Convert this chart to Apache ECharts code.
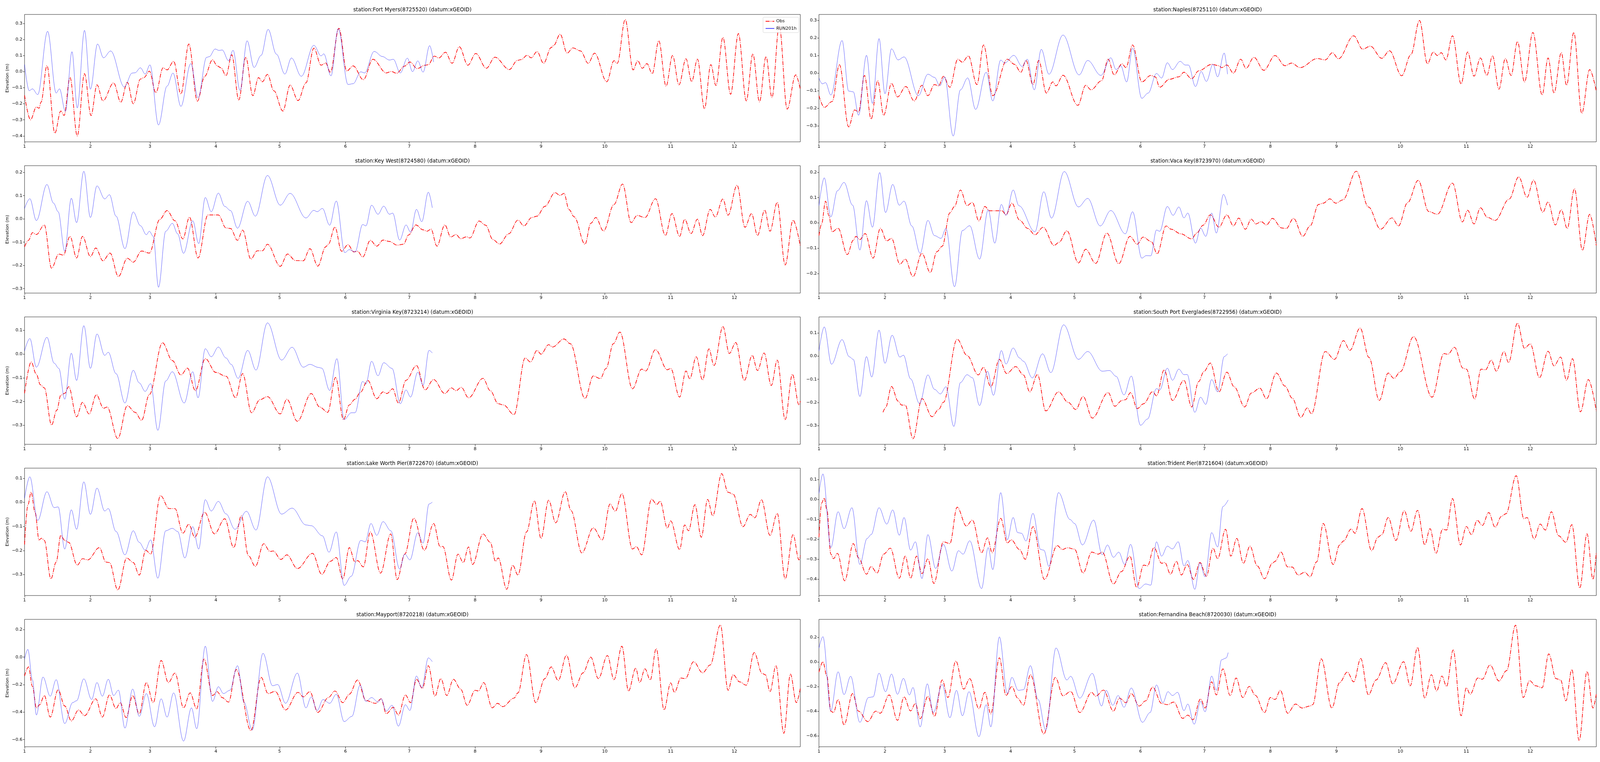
<!DOCTYPE html>
<html>
<head>
<meta charset="utf-8">
<title>Station elevation</title>
<script src="https://cdn.jsdelivr.net/npm/echarts@6/dist/echarts.min.js"></script>
<style>
html, body { margin: 0; padding: 0; background: #fff; overflow: hidden; }
#chart { width: 100vw; height: 100vh; }
</style>
</head>
<body>
<div id="chart"></div>
<script>
// x values are positions in months (1 = Jan 1, 13 = end of Dec), y values in metres
var monthStart = [0, 31, 59, 90, 120, 151, 181, 212, 243, 273, 304, 334, 365];
var monthLabels = ['1', '2', '3', '4', '5', '6', '7', '8', '9', '10', '11', '12'];

var stationTitles = [
  'station:Fort Myers(8725520) (datum:xGEOID)',
  'station:Naples(8725110) (datum:xGEOID)',
  'station:Key West(8724580) (datum:xGEOID)',
  'station:Vaca Key(8723970) (datum:xGEOID)',
  'station:Virginia Key(8723214) (datum:xGEOID)',
  'station:South Port Everglades(8722956) (datum:xGEOID)',
  'station:Lake Worth Pier(8722670) (datum:xGEOID)',
  'station:Trident Pier(8721604) (datum:xGEOID)',
  'station:Mayport(8720218) (datum:xGEOID)',
  'station:Fernandina Beach(8720030) (datum:xGEOID)'
];
var yLimits = [[-0.437, 0.356], [-0.39, 0.333], [-0.319, 0.229], [-0.277, 0.226], [-0.38, 0.157],
               [-0.38, 0.169], [-0.387, 0.142], [-0.482, 0.158], [-0.652, 0.275], [-0.687, 0.345]];
var yTicks = [
  [-0.4, -0.3, -0.2, -0.1, 0, 0.1, 0.2, 0.3],
  [-0.3, -0.2, -0.1, 0, 0.1, 0.2, 0.3],
  [-0.3, -0.2, -0.1, 0, 0.1, 0.2],
  [-0.2, -0.1, 0, 0.1, 0.2],
  [-0.3, -0.2, -0.1, 0, 0.1],
  [-0.3, -0.2, -0.1, 0, 0.1],
  [-0.3, -0.2, -0.1, 0, 0.1],
  [-0.4, -0.3, -0.2, -0.1, 0, 0.1],
  [-0.6, -0.4, -0.2, 0, 0.2],
  [-0.6, -0.4, -0.2, 0, 0.2]
];

var fortMyersObs = [[1.00,-0.147],[1.09,-0.30],[1.18,-0.22],[1.22,-0.228],[1.25,-0.19],[1.34,0.037],[1.46,-0.383],[1.55,-0.245],[1.60,-0.273],[1.69,-0.036],[1.80,-0.40],[1.91,-0.013],[2.01,-0.273],[2.11,-0.082],[2.21,-0.182],[2.39,-0.07],[2.51,-0.19],[2.62,-0.066],[2.72,-0.20],[2.84,-0.046],[2.90,-0.037],[2.99,0.003],[3.09,-0.131],[3.20,0.024],[3.26,0.011],[3.36,0.064],[3.47,-0.139],[3.59,0.172],[3.72,-0.184],[3.83,-0.03],[3.95,0.074],[4.02,0.036],[4.08,0.024],[4.16,-0.025],[4.25,0.105],[4.36,-0.176],[4.47,0.089],[4.58,-0.15],[4.67,-0.037],[4.73,-0.063],[4.81,-0.017],[4.91,-0.119],[5.05,-0.245],[5.16,-0.084],[5.28,-0.18],[5.40,-0.07],[5.52,0.146],[5.63,0.04],[5.70,0.054],[5.77,-0.005],[5.90,0.27],[6.02,0.004],[6.12,0.036],[6.28,-0.05],[6.43,0.077],[6.64,-0.008],[6.72,0.001],[6.80,-0.01],[6.93,0.035],[7.01,0.06],[7.12,0.019],[7.24,0.04],[7.29,0.043],[7.38,0.097],[7.45,0.085],[7.55,0.121],[7.65,0.052],[7.76,0.155],[7.89,0.04],[8.01,0.113],[8.17,0.021],[8.30,0.09],[8.52,0.013],[8.64,0.07],[8.70,0.075],[8.79,0.102],[8.85,0.086],[8.94,0.125],[9.04,0.052],[9.16,0.15],[9.20,0.164],[9.30,0.233],[9.41,0.115],[9.50,0.148],[9.62,0.129],[9.74,0.052],[9.84,0.115],[10.03,-0.063],[10.14,0.068],[10.19,0.052],[10.31,0.324],[10.43,0.011],[10.50,0.068],[10.57,0.021],[10.64,0.05],[10.72,-0.013],[10.82,0.192],[10.93,-0.09],[11.03,0.101],[11.13,-0.082],[11.24,0.08],[11.33,-0.062],[11.42,0.078],[11.53,-0.231],[11.63,0.044],[11.71,-0.086],[11.82,0.213],[11.94,-0.141],[12.06,0.237],[12.18,-0.182],[12.28,0.111],[12.38,-0.188],[12.48,0.094],[12.57,-0.161],[12.68,0.289],[12.80,-0.233],[12.93,-0.02],[13.00,-0.11]];
var fortMyersRun = [[1.00,0.044],[1.07,-0.119],[1.12,-0.107],[1.20,-0.143],[1.35,0.251],[1.48,-0.133],[1.53,-0.107],[1.62,-0.247],[1.72,0.124],[1.80,-0.226],[1.91,0.257],[2.00,-0.109],[2.12,0.172],[2.22,0.086],[2.34,0.129],[2.57,-0.096],[2.70,-0.009],[2.75,-0.007],[2.84,0.024],[2.92,-0.015],[3.00,0.042],[3.13,-0.332],[3.26,-0.09],[3.35,-0.009],[3.47,-0.216],[3.62,0.05],[3.73,-0.163],[3.86,0.089],[3.90,0.093],[3.99,0.141],[4.05,0.132],[4.10,0.135],[4.20,0.068],[4.27,0.133],[4.38,-0.117],[4.49,0.192],[4.60,0.026],[4.71,0.101],[4.82,0.263],[4.95,0.109],[5.08,-0.015],[5.18,0.085],[5.33,-0.029],[5.52,0.164],[5.63,0.098],[5.67,0.111],[5.78,-0.026],[5.89,0.267],[6.04,-0.08],[6.12,-0.075],[6.24,-0.001],[6.30,-0.008],[6.45,0.126],[6.58,0.094],[6.69,0.072],[6.75,0.077],[6.86,-0.008],[6.97,0.084],[7.05,0.0],[7.13,0.067],[7.21,-0.003],[7.31,0.162],[7.37,0.06]];

var naplesObs = [[1.00,-0.128],[1.08,-0.195],[1.20,-0.161],[1.31,0.048],[1.45,-0.305],[1.54,-0.209],[1.60,-0.22],[1.69,-0.013],[1.79,-0.261],[1.89,-0.043],[1.98,-0.239],[2.11,-0.058],[2.21,-0.135],[2.35,-0.076],[2.49,-0.158],[2.62,-0.069],[2.72,-0.128],[2.83,-0.065],[2.90,-0.072],[2.98,-0.018],[3.08,-0.08],[3.20,0.079],[3.27,0.062],[3.36,0.098],[3.49,-0.065],[3.59,0.16],[3.73,-0.128],[3.95,0.079],[4.06,0.05],[4.16,0.005],[4.24,0.072],[4.35,-0.065],[4.44,0.072],[4.56,-0.113],[4.66,-0.05],[4.71,-0.072],[4.82,-0.012],[5.05,-0.183],[5.17,-0.069],[5.25,-0.095],[5.41,-0.043],[5.51,0.079],[5.60,-0.01],[5.72,0.053],[5.78,0.031],[5.88,0.16],[6.02,-0.05],[6.16,-0.013],[6.23,-0.021],[6.30,-0.08],[6.45,-0.035],[6.60,-0.021],[6.68,0.005],[6.80,-0.032],[6.91,0.013],[7.11,0.05],[7.22,0.042],[7.26,0.031],[7.34,0.046],[7.44,0.0],[7.55,0.079],[7.63,0.027],[7.75,0.09],[7.90,0.016],[8.07,0.1],[8.22,0.042],[8.32,0.057],[8.45,0.031],[8.71,0.083],[8.83,0.075],[8.94,0.116],[9.03,0.081],[9.27,0.212],[9.41,0.136],[9.53,0.153],[9.71,0.084],[9.83,0.127],[10.02,-0.015],[10.16,0.105],[10.29,0.299],[10.41,0.053],[10.50,0.12],[10.56,0.1],[10.62,0.116],[10.69,0.075],[10.79,0.212],[10.92,-0.061],[11.02,0.12],[11.12,-0.017],[11.22,0.086],[11.32,-0.013],[11.41,0.098],[11.51,-0.091],[11.61,0.083],[11.70,-0.013],[11.80,0.179],[11.91,-0.05],[12.04,0.231],[12.18,-0.124],[12.27,0.086],[12.36,-0.113],[12.47,0.116],[12.55,-0.069],[12.66,0.231],[12.78,-0.228],[12.90,0.02],[13.00,-0.102]];
var naplesRun = [[1.00,-0.028],[1.05,-0.061],[1.10,-0.054],[1.18,-0.124],[1.35,0.185],[1.45,-0.102],[1.52,-0.106],[1.60,-0.239],[1.72,0.101],[1.81,-0.172],[1.91,0.196],[2.00,-0.117],[2.11,0.138],[2.22,0.075],[2.32,0.092],[2.56,-0.128],[2.72,-0.006],[2.83,-0.024],[2.92,-0.072],[3.00,-0.021],[3.13,-0.357],[3.24,-0.095],[3.35,-0.027],[3.47,-0.206],[3.63,0.005],[3.73,-0.158],[3.85,0.074],[3.91,0.057],[4.05,0.101],[4.18,0.038],[4.26,0.079],[4.37,-0.095],[4.48,0.135],[4.60,-0.006],[4.82,0.216],[5.07,-0.01],[5.20,0.072],[5.40,-0.013],[5.55,0.087],[5.63,0.02],[5.70,0.042],[5.79,-0.05],[5.88,0.142],[6.02,-0.143],[6.12,-0.113],[6.25,-0.002],[6.33,-0.028],[6.42,0.059],[6.50,0.02],[6.62,0.067],[6.70,0.046],[6.75,0.046],[6.86,-0.076],[6.95,0.009],[7.03,-0.047],[7.13,0.05],[7.20,-0.021],[7.30,0.114],[7.35,-0.006]];

var keyWestObs = [[1.00,-0.12],[1.06,-0.092],[1.12,-0.059],[1.18,-0.067],[1.30,-0.026],[1.41,-0.212],[1.52,-0.151],[1.59,-0.156],[1.69,-0.075],[1.79,-0.168],[1.88,-0.075],[2.00,-0.162],[2.09,-0.125],[2.21,-0.18],[2.33,-0.147],[2.47,-0.248],[2.62,-0.169],[2.72,-0.186],[2.86,-0.138],[2.99,-0.147],[3.15,-0.002],[3.26,0.036],[3.38,-0.008],[3.50,-0.086],[3.60,0.008],[3.73,-0.168],[3.88,0.017],[4.04,0.017],[4.16,-0.039],[4.23,-0.041],[4.34,-0.092],[4.42,-0.048],[4.55,-0.173],[4.65,-0.137],[4.73,-0.137],[4.81,-0.109],[5.01,-0.204],[5.12,-0.151],[5.24,-0.179],[5.36,-0.18],[5.46,-0.128],[5.58,-0.203],[5.70,-0.12],[5.74,-0.109],[5.84,-0.035],[5.94,-0.139],[6.04,-0.111],[6.13,-0.142],[6.19,-0.139],[6.27,-0.164],[6.39,-0.092],[6.49,-0.117],[6.59,-0.091],[6.69,-0.097],[6.81,-0.113],[6.91,-0.109],[6.99,-0.069],[7.10,-0.026],[7.21,-0.047],[7.27,-0.053],[7.33,-0.044],[7.42,-0.117],[7.54,-0.026],[7.63,-0.078],[7.71,-0.067],[7.78,-0.085],[7.87,-0.077],[7.92,-0.082],[8.06,-0.009],[8.16,-0.027],[8.27,-0.089],[8.37,-0.108],[8.51,-0.064],[8.65,-0.005],[8.74,-0.03],[8.86,0.006],[8.94,0.012],[9.06,0.054],[9.22,0.113],[9.30,0.101],[9.36,0.11],[9.44,0.04],[9.52,0.009],[9.69,-0.109],[9.78,-0.019],[9.86,0.006],[9.98,-0.052],[10.14,0.062],[10.27,0.15],[10.40,-0.016],[10.49,0.015],[10.61,0.006],[10.77,0.087],[10.92,-0.071],[11.02,0.023],[11.14,-0.075],[11.22,-0.002],[11.32,-0.063],[11.42,-0.001],[11.50,-0.072],[11.62,0.041],[11.70,0.008],[11.82,0.086],[11.90,0.016],[12.04,0.145],[12.16,-0.036],[12.26,0.023],[12.35,-0.071],[12.46,0.038],[12.54,-0.053],[12.65,0.071],[12.77,-0.198],[12.89,-0.005],[13.00,-0.117]];
var keyWestRun = [[1.00,0.045],[1.08,0.087],[1.18,-0.007],[1.34,0.148],[1.44,0.068],[1.51,0.031],[1.61,-0.139],[1.71,0.089],[1.79,-0.016],[1.90,0.205],[2.00,0.006],[2.11,0.142],[2.24,0.086],[2.32,0.104],[2.43,0.012],[2.58,-0.128],[2.72,0.03],[2.84,-0.029],[2.94,-0.068],[2.99,-0.053],[3.05,-0.075],[3.13,-0.294],[3.24,-0.053],[3.34,-0.019],[3.42,-0.064],[3.51,-0.148],[3.65,-0.008],[3.74,-0.106],[3.84,0.092],[3.93,0.031],[4.04,0.111],[4.14,0.054],[4.23,0.036],[4.34,-0.04],[4.50,0.076],[4.62,0.012],[4.81,0.187],[5.01,0.059],[5.16,0.11],[5.40,0.004],[5.52,0.037],[5.57,0.031],[5.65,0.045],[5.76,-0.027],[5.86,0.077],[5.99,-0.145],[6.06,-0.132],[6.15,-0.142],[6.27,-0.024],[6.32,-0.03],[6.41,0.059],[6.51,0.02],[6.60,0.055],[6.69,0.02],[6.74,0.025],[6.85,-0.091],[6.95,-0.026],[7.02,-0.057],[7.11,0.041],[7.19,-0.012],[7.29,0.115],[7.35,0.048]];

var vacaKeyObs = [[1.00,-0.05],[1.04,-0.004],[1.10,0.086],[1.15,0.029],[1.20,-0.035],[1.29,-0.021],[1.43,-0.125],[1.52,-0.068],[1.56,-0.053],[1.62,-0.066],[1.70,-0.042],[1.82,-0.139],[1.93,-0.021],[2.03,-0.071],[2.11,-0.061],[2.25,-0.163],[2.34,-0.143],[2.47,-0.212],[2.62,-0.12],[2.76,-0.196],[2.87,-0.114],[2.96,-0.092],[3.08,0.04],[3.15,0.065],[3.24,0.13],[3.34,0.068],[3.42,0.081],[3.52,0.008],[3.61,0.065],[3.68,0.048],[3.87,0.048],[3.93,0.032],[4.02,0.078],[4.14,0.011],[4.27,-0.022],[4.38,-0.047],[4.51,-0.017],[4.68,-0.089],[4.76,-0.076],[4.88,-0.031],[5.06,-0.158],[5.17,-0.104],[5.32,-0.16],[5.49,-0.04],[5.67,-0.161],[5.84,-0.053],[5.95,-0.084],[6.04,-0.056],[6.17,-0.074],[6.26,-0.122],[6.40,-0.012],[6.48,-0.025],[6.63,-0.043],[6.80,-0.063],[6.88,-0.04],[6.98,-0.009],[7.09,0.032],[7.22,-0.017],[7.34,0.032],[7.44,-0.012],[7.52,0.019],[7.62,-0.025],[7.71,0.015],[7.78,-0.004],[7.86,0.005],[7.94,-0.008],[8.03,0.018],[8.17,-0.02],[8.24,-0.022],[8.35,0.018],[8.49,-0.053],[8.60,-0.012],[8.73,0.073],[8.80,0.078],[8.90,0.095],[8.99,0.078],[9.10,0.091],[9.31,0.204],[9.50,0.063],[9.69,-0.025],[9.87,0.02],[9.97,-0.012],[10.11,0.08],[10.27,0.168],[10.43,0.045],[10.56,0.034],[10.79,0.157],[10.94,0.004],[11.02,0.05],[11.12,-0.004],[11.22,0.06],[11.33,0.022],[11.45,0.01],[11.67,0.094],[11.82,0.182],[11.95,0.101],[12.05,0.169],[12.19,0.042],[12.27,0.083],[12.38,-0.008],[12.47,0.052],[12.56,-0.022],[12.67,0.135],[12.79,-0.108],[12.90,0.034],[13.00,-0.089]];
var vacaKeyRun = [[1.00,0.068],[1.08,0.178],[1.18,0.024],[1.28,0.127],[1.38,0.16],[1.51,0.07],[1.62,-0.107],[1.72,0.088],[1.81,-0.017],[1.92,0.199],[2.01,0.041],[2.13,0.152],[2.24,0.07],[2.32,0.086],[2.45,-0.012],[2.59,-0.12],[2.72,0.01],[2.83,-0.05],[2.94,-0.061],[3.02,-0.022],[3.15,-0.252],[3.27,-0.03],[3.38,-0.011],[3.53,-0.143],[3.66,0.051],[3.76,-0.08],[3.86,0.073],[3.93,0.03],[4.04,0.13],[4.13,0.068],[4.38,-0.035],[4.52,0.123],[4.64,0.019],[4.84,0.203],[5.06,0.063],[5.20,0.097],[5.39,-0.012],[5.55,0.049],[5.77,-0.043],[5.88,0.044],[6.02,-0.139],[6.09,-0.129],[6.16,-0.13],[6.25,-0.028],[6.30,-0.033],[6.42,0.065],[6.51,0.03],[6.60,0.063],[6.68,0.02],[6.74,0.039],[6.86,-0.08],[6.94,-0.02],[7.02,-0.053],[7.11,0.039],[7.18,-0.04],[7.29,0.113],[7.35,0.07]];

var virginiaKeyObs = [[1.00,-0.165],[1.10,-0.033],[1.18,-0.085],[1.24,-0.129],[1.30,-0.142],[1.41,-0.299],[1.49,-0.236],[1.55,-0.173],[1.61,-0.165],[1.67,-0.137],[1.79,-0.264],[1.88,-0.203],[1.98,-0.252],[2.10,-0.171],[2.22,-0.228],[2.28,-0.223],[2.46,-0.356],[2.62,-0.217],[2.75,-0.245],[2.86,-0.279],[2.99,-0.17],[3.19,0.048],[3.34,-0.027],[3.47,-0.088],[3.57,-0.059],[3.69,-0.154],[3.84,-0.019],[4.00,-0.077],[4.16,-0.093],[4.31,-0.184],[4.42,-0.082],[4.56,-0.247],[4.69,-0.192],[4.81,-0.179],[5.01,-0.252],[5.11,-0.19],[5.27,-0.283],[5.48,-0.166],[5.61,-0.223],[5.73,-0.245],[5.85,-0.098],[5.97,-0.276],[6.06,-0.214],[6.15,-0.19],[6.23,-0.162],[6.35,-0.111],[6.49,-0.188],[6.59,-0.159],[6.65,-0.166],[6.74,-0.146],[6.83,-0.206],[6.95,-0.11],[7.11,-0.048],[7.24,-0.151],[7.37,-0.107],[7.54,-0.166],[7.64,-0.142],[7.71,-0.154],[7.79,-0.14],[7.90,-0.184],[8.12,-0.102],[8.23,-0.154],[8.35,-0.209],[8.43,-0.214],[8.59,-0.255],[8.76,-0.016],[8.84,-0.033],[8.94,0.016],[9.00,0.0],[9.12,0.04],[9.18,0.03],[9.36,0.064],[9.46,0.044],[9.69,-0.187],[9.82,-0.092],[9.93,-0.103],[10.02,-0.06],[10.13,0.044],[10.23,0.093],[10.42,-0.146],[10.56,-0.063],[10.62,-0.071],[10.77,0.019],[10.95,-0.066],[11.00,-0.06],[11.14,-0.181],[11.24,-0.071],[11.30,-0.104],[11.40,-0.011],[11.50,-0.109],[11.60,0.022],[11.68,-0.048],[11.82,0.116],[11.92,0.003],[12.02,0.049],[12.15,-0.111],[12.27,-0.005],[12.35,-0.069],[12.45,0.005],[12.56,-0.132],[12.65,-0.025],[12.77,-0.276],[12.88,-0.085],[12.98,-0.214],[13.00,-0.198]];
var virginiaKeyRun = [[1.00,0.014],[1.08,0.066],[1.18,-0.055],[1.34,0.071],[1.45,-0.038],[1.52,-0.06],[1.61,-0.19],[1.71,0.004],[1.79,-0.111],[1.90,0.12],[2.00,-0.06],[2.11,0.085],[2.24,-0.005],[2.30,0.008],[2.43,-0.082],[2.58,-0.206],[2.72,-0.068],[2.82,-0.121],[2.92,-0.157],[3.01,-0.124],[3.12,-0.321],[3.24,-0.113],[3.34,-0.074],[3.52,-0.206],[3.65,-0.074],[3.73,-0.184],[3.84,0.023],[3.93,-0.011],[4.04,0.03],[4.16,-0.016],[4.24,-0.043],[4.35,-0.102],[4.50,0.016],[4.63,-0.067],[4.81,0.132],[5.03,-0.025],[5.19,0.029],[5.36,-0.055],[5.46,-0.043],[5.59,-0.056],[5.64,-0.059],[5.76,-0.153],[5.87,-0.019],[5.98,-0.276],[6.09,-0.247],[6.15,-0.247],[6.27,-0.115],[6.32,-0.126],[6.41,-0.03],[6.51,-0.091],[6.60,-0.036],[6.73,-0.06],[6.86,-0.209],[6.95,-0.151],[7.02,-0.181],[7.13,-0.076],[7.21,-0.131],[7.30,0.016],[7.35,0.005]];

var southPortObs = [[1.97,-0.242],[2.01,-0.222],[2.11,-0.131],[2.22,-0.194],[2.28,-0.211],[2.34,-0.211],[2.47,-0.356],[2.62,-0.183],[2.79,-0.261],[2.90,-0.23],[2.98,-0.199],[3.19,0.073],[3.34,0.003],[3.51,-0.081],[3.59,-0.048],[3.70,-0.132],[3.83,-0.014],[3.94,-0.075],[4.08,-0.045],[4.20,-0.081],[4.30,-0.154],[4.42,-0.079],[4.55,-0.236],[4.75,-0.154],[4.90,-0.199],[5.02,-0.23],[5.13,-0.174],[5.27,-0.267],[5.51,-0.157],[5.61,-0.216],[5.72,-0.191],[5.77,-0.188],[5.85,-0.157],[5.95,-0.226],[6.05,-0.205],[6.19,-0.153],[6.25,-0.171],[6.37,-0.059],[6.50,-0.191],[6.68,-0.104],[6.80,-0.219],[6.91,-0.11],[6.99,-0.067],[7.09,-0.03],[7.22,-0.154],[7.34,-0.069],[7.45,-0.132],[7.61,-0.219],[7.71,-0.159],[7.84,-0.138],[7.94,-0.184],[8.09,-0.073],[8.22,-0.129],[8.33,-0.181],[8.46,-0.264],[8.56,-0.223],[8.62,-0.249],[8.83,0.02],[8.97,-0.014],[9.11,0.067],[9.21,0.025],[9.37,0.121],[9.51,-0.006],[9.67,-0.191],[9.81,-0.073],[9.90,-0.096],[10.00,-0.067],[10.20,0.084],[10.48,-0.177],[10.66,0.011],[10.72,0.008],[10.82,0.038],[10.95,-0.052],[11.00,-0.056],[11.13,-0.185],[11.23,-0.056],[11.30,-0.059],[11.39,-0.017],[11.47,-0.065],[11.59,0.02],[11.66,-0.028],[11.80,0.142],[11.91,0.034],[12.00,0.053],[12.14,-0.093],[12.27,0.021],[12.36,-0.042],[12.46,-0.004],[12.55,-0.104],[12.64,-0.011],[12.76,-0.24],[12.88,-0.101],[13.00,-0.236]];
var southPortRun = [[1.00,0.022],[1.08,0.126],[1.19,-0.035],[1.35,0.071],[1.46,-0.003],[1.52,-0.014],[1.62,-0.174],[1.72,-0.002],[1.80,-0.09],[1.91,0.112],[2.00,-0.031],[2.12,0.09],[2.25,-0.004],[2.31,0.004],[2.43,-0.098],[2.58,-0.205],[2.72,-0.081],[2.83,-0.143],[2.93,-0.163],[3.02,-0.132],[3.14,-0.303],[3.24,-0.114],[3.34,-0.08],[3.42,-0.093],[3.53,-0.213],[3.65,-0.065],[3.74,-0.169],[3.86,0.024],[3.93,-0.034],[4.04,0.035],[4.14,-0.008],[4.20,-0.022],[4.34,-0.094],[4.50,0.01],[4.63,-0.071],[4.83,0.135],[5.06,-0.014],[5.20,0.02],[5.42,-0.065],[5.53,-0.062],[5.63,-0.087],[5.75,-0.167],[5.86,-0.086],[6.00,-0.298],[6.11,-0.271],[6.25,-0.14],[6.30,-0.146],[6.42,-0.052],[6.50,-0.104],[6.60,-0.056],[6.68,-0.08],[6.73,-0.079],[6.85,-0.242],[6.94,-0.177],[7.02,-0.208],[7.11,-0.101],[7.20,-0.154],[7.30,-0.002],[7.35,0.01]];

var lakeWorthObs = [[1.00,-0.175],[1.05,-0.012],[1.10,0.042],[1.16,-0.042],[1.22,-0.156],[1.26,-0.149],[1.30,-0.158],[1.40,-0.318],[1.48,-0.248],[1.55,-0.137],[1.61,-0.158],[1.67,-0.166],[1.80,-0.261],[1.88,-0.234],[1.96,-0.239],[2.15,-0.188],[2.26,-0.248],[2.32,-0.25],[2.46,-0.364],[2.61,-0.231],[2.72,-0.25],[2.82,-0.302],[2.93,-0.199],[3.01,-0.215],[3.16,0.028],[3.29,-0.026],[3.38,-0.026],[3.50,-0.128],[3.59,-0.091],[3.68,-0.145],[3.83,-0.041],[3.98,-0.131],[4.14,-0.068],[4.28,-0.188],[4.40,-0.056],[4.51,-0.221],[4.62,-0.266],[4.75,-0.172],[4.85,-0.204],[4.90,-0.202],[5.02,-0.237],[5.11,-0.218],[5.27,-0.275],[5.50,-0.212],[5.64,-0.299],[5.77,-0.245],[5.86,-0.229],[5.96,-0.318],[6.06,-0.188],[6.15,-0.248],[6.19,-0.242],[6.28,-0.268],[6.39,-0.123],[6.55,-0.294],[6.71,-0.131],[6.81,-0.321],[6.93,-0.215],[7.07,-0.066],[7.23,-0.199],[7.37,-0.088],[7.47,-0.185],[7.51,-0.183],[7.64,-0.323],[7.74,-0.215],[7.82,-0.25],[7.90,-0.185],[7.96,-0.258],[8.12,-0.131],[8.23,-0.166],[8.31,-0.245],[8.35,-0.231],[8.48,-0.361],[8.57,-0.261],[8.65,-0.302],[8.78,-0.123],[8.90,0.006],[9.00,-0.15],[9.12,0.009],[9.23,-0.085],[9.38,0.044],[9.47,-0.034],[9.64,-0.21],[9.82,-0.106],[9.96,-0.156],[10.08,-0.007],[10.16,-0.037],[10.26,0.036],[10.42,-0.194],[10.48,-0.184],[10.56,-0.218],[10.71,0.013],[10.79,-0.009],[10.84,0.005],[10.95,-0.107],[11.00,-0.077],[11.14,-0.196],[11.22,-0.094],[11.28,-0.118],[11.38,-0.01],[11.48,-0.145],[11.58,0.012],[11.66,-0.056],[11.80,0.119],[11.90,0.042],[11.98,0.034],[12.13,-0.101],[12.24,-0.05],[12.31,-0.064],[12.41,0.011],[12.54,-0.137],[12.65,-0.046],[12.77,-0.318],[12.89,-0.134],[12.98,-0.239],[13.00,-0.221]];
var lakeWorthRun = [[1.00,0.017],[1.08,0.106],[1.20,-0.075],[1.34,0.044],[1.45,-0.022],[1.51,-0.019],[1.61,-0.194],[1.71,-0.031],[1.79,-0.112],[1.90,0.085],[2.00,-0.05],[2.11,0.059],[2.24,-0.036],[2.30,-0.026],[2.43,-0.121],[2.58,-0.218],[2.72,-0.118],[2.82,-0.166],[2.92,-0.199],[3.01,-0.156],[3.12,-0.315],[3.24,-0.118],[3.34,-0.108],[3.42,-0.121],[3.53,-0.231],[3.65,-0.101],[3.74,-0.194],[3.84,0.011],[3.93,-0.036],[4.04,0.004],[4.16,-0.048],[4.30,-0.112],[4.48,-0.037],[4.63,-0.115],[4.81,0.106],[5.03,-0.049],[5.19,-0.024],[5.40,-0.094],[5.48,-0.097],[5.65,-0.139],[5.75,-0.207],[5.86,-0.123],[5.98,-0.345],[6.09,-0.307],[6.24,-0.158],[6.31,-0.164],[6.40,-0.088],[6.49,-0.137],[6.59,-0.08],[6.71,-0.118],[6.85,-0.277],[6.93,-0.215],[7.01,-0.239],[7.13,-0.126],[7.21,-0.169],[7.30,-0.007],[7.35,0.001]];

var tridentObs = [[1.00,-0.189],[1.04,-0.018],[1.08,0.008],[1.12,-0.051],[1.18,-0.274],[1.22,-0.297],[1.28,-0.27],[1.39,-0.408],[1.52,-0.221],[1.60,-0.293],[1.72,-0.375],[1.79,-0.336],[1.88,-0.369],[1.98,-0.274],[2.09,-0.244],[2.24,-0.395],[2.34,-0.284],[2.43,-0.395],[2.53,-0.284],[2.62,-0.372],[2.72,-0.297],[2.82,-0.421],[2.98,-0.212],[3.08,-0.221],[3.19,-0.038],[3.33,-0.133],[3.42,-0.103],[3.56,-0.267],[3.65,-0.192],[3.72,-0.267],[3.85,-0.094],[3.95,-0.218],[4.01,-0.202],[4.14,-0.251],[4.23,-0.30],[4.35,-0.136],[4.53,-0.401],[4.73,-0.231],[4.81,-0.251],[4.89,-0.242],[5.00,-0.249],[5.13,-0.369],[5.26,-0.264],[5.36,-0.274],[5.42,-0.264],[5.59,-0.424],[5.71,-0.362],[5.84,-0.284],[5.94,-0.441],[6.05,-0.329],[6.11,-0.333],[6.21,-0.241],[6.33,-0.32],[6.38,-0.316],[6.47,-0.375],[6.56,-0.31],[6.64,-0.379],[6.73,-0.326],[6.83,-0.401],[6.93,-0.316],[7.03,-0.385],[7.13,-0.244],[7.20,-0.297],[7.32,-0.149],[7.40,-0.284],[7.49,-0.195],[7.59,-0.32],[7.69,-0.234],[7.80,-0.333],[7.91,-0.398],[8.03,-0.32],[8.07,-0.31],[8.16,-0.264],[8.26,-0.338],[8.33,-0.339],[8.42,-0.379],[8.52,-0.365],[8.60,-0.388],[8.70,-0.313],[8.80,-0.12],[8.95,-0.326],[9.05,-0.228],[9.11,-0.208],[9.23,-0.148],[9.29,-0.169],[9.40,-0.045],[9.55,-0.257],[9.65,-0.189],[9.71,-0.176],[9.81,-0.09],[9.93,-0.205],[10.06,-0.056],[10.16,-0.159],[10.26,-0.054],[10.37,-0.227],[10.45,-0.146],[10.54,-0.27],[10.64,-0.149],[10.70,-0.153],[10.79,0.005],[10.91,-0.228],[11.00,-0.135],[11.08,-0.176],[11.17,-0.104],[11.25,-0.13],[11.35,-0.065],[11.45,-0.139],[11.55,-0.084],[11.62,-0.071],[11.78,0.12],[11.90,-0.096],[11.95,-0.09],[12.06,-0.198],[12.15,-0.123],[12.23,-0.153],[12.32,-0.061],[12.43,-0.182],[12.54,-0.215],[12.63,-0.126],[12.75,-0.444],[12.86,-0.172],[12.95,-0.401],[13.00,-0.267]];
var tridentRun = [[1.00,0.031],[1.06,0.129],[1.18,-0.241],[1.29,-0.061],[1.38,-0.146],[1.50,-0.041],[1.62,-0.326],[1.73,-0.195],[1.79,-0.176],[1.91,-0.041],[2.03,-0.123],[2.13,-0.052],[2.24,-0.179],[2.32,-0.09],[2.43,-0.254],[2.51,-0.212],[2.62,-0.397],[2.72,-0.176],[2.85,-0.346],[2.98,-0.225],[3.11,-0.359],[3.21,-0.257],[3.28,-0.274],[3.38,-0.207],[3.56,-0.447],[3.66,-0.241],[3.73,-0.352],[3.85,0.035],[3.95,-0.202],[4.04,-0.09],[4.11,-0.166],[4.17,-0.169],[4.24,-0.208],[4.35,-0.069],[4.47,-0.251],[4.52,-0.254],[4.60,-0.336],[4.75,0.035],[4.93,-0.10],[5.00,-0.12],[5.12,-0.228],[5.29,-0.103],[5.42,-0.277],[5.50,-0.228],[5.59,-0.29],[5.67,-0.264],[5.76,-0.326],[5.85,-0.225],[5.98,-0.447],[6.08,-0.424],[6.16,-0.43],[6.25,-0.212],[6.33,-0.284],[6.42,-0.234],[6.50,-0.248],[6.59,-0.212],[6.68,-0.333],[6.74,-0.306],[6.85,-0.451],[6.93,-0.318],[7.01,-0.388],[7.11,-0.166],[7.20,-0.238],[7.28,-0.035],[7.36,-0.002]];

var mayportObs = [[1.00,-0.137],[1.06,-0.071],[1.12,-0.213],[1.18,-0.369],[1.23,-0.346],[1.30,-0.279],[1.39,-0.436],[1.51,-0.237],[1.61,-0.355],[1.71,-0.464],[1.82,-0.384],[1.91,-0.426],[2.09,-0.303],[2.20,-0.436],[2.32,-0.275],[2.43,-0.374],[2.50,-0.331],[2.60,-0.44],[2.71,-0.279],[2.82,-0.412],[2.94,-0.185],[3.05,-0.331],[3.17,-0.024],[3.28,-0.185],[3.38,-0.116],[3.51,-0.369],[3.61,-0.26],[3.71,-0.376],[3.82,-0.014],[3.95,-0.279],[4.02,-0.251],[4.10,-0.294],[4.20,-0.327],[4.32,-0.09],[4.55,-0.535],[4.71,-0.147],[4.82,-0.265],[4.93,-0.249],[5.09,-0.384],[5.28,-0.256],[5.36,-0.289],[5.46,-0.251],[5.58,-0.402],[5.74,-0.294],[5.84,-0.246],[5.96,-0.331],[6.06,-0.27],[6.19,-0.166],[6.32,-0.315],[6.47,-0.336],[6.56,-0.303],[6.64,-0.412],[6.75,-0.365],[6.83,-0.421],[6.94,-0.275],[7.02,-0.331],[7.11,-0.161],[7.20,-0.227],[7.29,-0.062],[7.39,-0.284],[7.48,-0.156],[7.57,-0.279],[7.67,-0.161],[7.78,-0.232],[7.88,-0.35],[8.00,-0.241],[8.05,-0.246],[8.13,-0.185],[8.26,-0.369],[8.34,-0.336],[8.42,-0.36],[8.59,-0.298],[8.65,-0.26],[8.78,0.019],[8.92,-0.331],[9.06,-0.156],[9.16,-0.071],[9.27,-0.17],[9.40,0.014],[9.53,-0.223],[9.66,-0.114],[9.78,0.0],[9.90,-0.156],[10.04,0.012],[10.14,-0.164],[10.26,0.08],[10.36,-0.246],[10.47,-0.08],[10.53,-0.185],[10.61,-0.085],[10.69,-0.166],[10.78,0.062],[10.90,-0.384],[11.00,-0.187],[11.06,-0.256],[11.16,-0.152],[11.23,-0.156],[11.36,-0.033],[11.50,-0.114],[11.62,-0.057],[11.78,0.234],[11.90,-0.241],[11.98,-0.128],[12.08,-0.18],[12.18,-0.204],[12.30,0.033],[12.42,-0.118],[12.47,-0.128],[12.54,-0.251],[12.63,-0.062],[12.75,-0.554],[12.85,-0.123],[12.94,-0.331],[13.00,-0.227]];
var mayportRun = [[1.00,-0.014],[1.05,0.057],[1.12,-0.166],[1.18,-0.421],[1.28,-0.145],[1.39,-0.284],[1.48,-0.164],[1.61,-0.483],[1.73,-0.331],[1.79,-0.317],[1.90,-0.158],[2.02,-0.308],[2.11,-0.185],[2.20,-0.284],[2.30,-0.161],[2.39,-0.279],[2.47,-0.24],[2.58,-0.516],[2.71,-0.232],[2.82,-0.431],[2.94,-0.265],[3.07,-0.507],[3.17,-0.303],[3.26,-0.436],[3.36,-0.26],[3.51,-0.611],[3.63,-0.369],[3.71,-0.521],[3.84,0.08],[3.95,-0.322],[4.04,-0.215],[4.12,-0.265],[4.22,-0.241],[4.34,-0.062],[4.44,-0.327],[4.57,-0.53],[4.74,0.028],[4.89,-0.208],[4.97,-0.199],[5.09,-0.336],[5.27,-0.116],[5.40,-0.369],[5.48,-0.289],[5.57,-0.388],[5.66,-0.308],[5.76,-0.336],[5.86,-0.27],[5.98,-0.469],[6.10,-0.431],[6.23,-0.204],[6.32,-0.322],[6.41,-0.294],[6.51,-0.327],[6.56,-0.303],[6.64,-0.393],[6.73,-0.35],[6.83,-0.502],[6.94,-0.346],[7.01,-0.388],[7.11,-0.137],[7.19,-0.223],[7.29,-0.005],[7.35,-0.033]];

var fernandinaObs = [[1.00,-0.082],[1.06,0.002],[1.12,-0.114],[1.18,-0.399],[1.22,-0.41],[1.29,-0.304],[1.38,-0.51],[1.51,-0.256],[1.60,-0.399],[1.74,-0.483],[1.86,-0.399],[1.93,-0.415],[2.07,-0.267],[2.21,-0.473],[2.32,-0.283],[2.43,-0.397],[2.51,-0.336],[2.59,-0.46],[2.72,-0.278],[2.83,-0.441],[2.96,-0.146],[3.05,-0.288],[3.17,0.007],[3.29,-0.22],[3.38,-0.135],[3.52,-0.378],[3.61,-0.246],[3.70,-0.42],[3.83,0.034],[3.93,-0.272],[4.02,-0.198],[4.11,-0.293],[4.20,-0.351],[4.31,-0.103],[4.52,-0.584],[4.70,-0.125],[4.82,-0.274],[4.94,-0.239],[5.08,-0.41],[5.26,-0.246],[5.32,-0.278],[5.44,-0.228],[5.59,-0.399],[5.68,-0.293],[5.78,-0.33],[5.86,-0.256],[5.98,-0.357],[6.08,-0.315],[6.19,-0.204],[6.33,-0.336],[6.42,-0.346],[6.52,-0.325],[6.66,-0.457],[6.74,-0.431],[6.82,-0.468],[6.94,-0.299],[7.01,-0.373],[7.11,-0.161],[7.18,-0.267],[7.28,-0.056],[7.39,-0.272],[7.48,-0.13],[7.58,-0.288],[7.68,-0.198],[7.77,-0.27],[7.91,-0.41],[8.00,-0.288],[8.07,-0.304],[8.15,-0.23],[8.26,-0.415],[8.38,-0.341],[8.48,-0.373],[8.60,-0.357],[8.64,-0.346],[8.77,0.025],[8.93,-0.373],[9.05,-0.167],[9.17,-0.082],[9.27,-0.161],[9.38,0.028],[9.50,-0.267],[9.62,-0.146],[9.77,-0.006],[9.88,-0.177],[10.05,0.002],[10.15,-0.193],[10.26,0.118],[10.37,-0.293],[10.47,-0.103],[10.55,-0.235],[10.63,-0.114],[10.70,-0.198],[10.80,0.097],[10.92,-0.436],[11.00,-0.209],[11.06,-0.262],[11.18,-0.13],[11.25,-0.14],[11.37,-0.024],[11.51,-0.154],[11.63,-0.07],[11.77,0.298],[11.89,-0.288],[11.99,-0.151],[12.08,-0.193],[12.18,-0.209],[12.28,0.065],[12.39,-0.135],[12.46,-0.146],[12.54,-0.315],[12.63,-0.061],[12.74,-0.636],[12.86,-0.077],[12.95,-0.373],[13.00,-0.262]];
var fernandinaRun = [[1.00,0.113],[1.06,0.205],[1.18,-0.394],[1.29,-0.08],[1.38,-0.264],[1.48,-0.116],[1.62,-0.489],[1.75,-0.288],[1.82,-0.283],[1.91,-0.091],[2.01,-0.241],[2.11,-0.098],[2.21,-0.262],[2.31,-0.133],[2.41,-0.267],[2.47,-0.207],[2.59,-0.526],[2.71,-0.177],[2.81,-0.41],[2.96,-0.183],[3.08,-0.452],[3.18,-0.23],[3.27,-0.436],[3.37,-0.241],[3.52,-0.605],[3.63,-0.346],[3.70,-0.526],[3.83,0.203],[3.95,-0.256],[4.02,-0.125],[4.12,-0.23],[4.20,-0.225],[4.31,-0.03],[4.43,-0.304],[4.55,-0.552],[4.71,0.113],[4.88,-0.146],[4.94,-0.116],[5.08,-0.293],[5.27,-0.093],[5.41,-0.357],[5.48,-0.23],[5.58,-0.351],[5.66,-0.272],[5.75,-0.367],[5.86,-0.211],[6.03,-0.489],[6.15,-0.41],[6.25,-0.186],[6.35,-0.33],[6.43,-0.241],[6.50,-0.272],[6.58,-0.246],[6.68,-0.394],[6.74,-0.341],[6.84,-0.504],[6.94,-0.32],[7.01,-0.404],[7.11,-0.114],[7.18,-0.23],[7.26,0.018],[7.33,0.032],[7.36,0.076]];

var obsSets = [fortMyersObs, naplesObs, keyWestObs, vacaKeyObs, virginiaKeyObs, southPortObs, lakeWorthObs, tridentObs, mayportObs, fernandinaObs];
var runSets = [fortMyersRun, naplesRun, keyWestRun, vacaKeyRun, virginiaKeyRun, southPortRun, lakeWorthRun, tridentRun, mayportRun, fernandinaRun];

// month position -> day of year
function toDay(t) {
  var m = Math.min(Math.floor(t), 12);
  return monthStart[m - 1] + (t - m) * (monthStart[m] - monthStart[m - 1]);
}

// layout is designed on a 5150 x 1950 sheet and scaled to the real window
var sx = window.innerWidth / 5150;
var sy = window.innerHeight / 1950;
function X(v) { return v * sx; }
function Y(v) { return v * sy; }

var FONT = 'DejaVu Sans';
var monthTicks = monthStart.slice(0, 12);

var grids = [], xAxes = [], yAxes = [], series = [], graphics = [];

stationTitles.forEach(function (title, i) {
  var col = i % 2, row = Math.floor(i / 2);
  var left = col === 0 ? 79 : 2636;
  var width = col === 0 ? 2497 : 2502;
  var top = 37 + row * 387;
  var height = 326;

  grids.push({ left: X(left), top: Y(top), width: X(width), height: Y(height), show: true,
    borderColor: '#000', borderWidth: X(1.1), backgroundColor: 'transparent' });

  xAxes.push({
    type: 'value', gridIndex: i, min: 0, max: 365,
    axisLine: { show: false, onZero: false },
    splitLine: { show: false },
    axisTick: { show: true, inside: false, length: Y(5), customValues: monthTicks,
      lineStyle: { color: '#000', width: X(1.1) } },
    axisLabel: { customValues: monthTicks, margin: Y(7), fontSize: X(13.9), fontFamily: FONT, color: '#000',
      formatter: function (v) { return monthLabels[monthTicks.indexOf(v)]; } }
  });

  yAxes.push({
    type: 'value', gridIndex: i, min: yLimits[i][0], max: yLimits[i][1],
    axisLine: { show: false, onZero: false },
    splitLine: { show: false },
    axisTick: { show: true, inside: false, length: X(5), customValues: yTicks[i],
      lineStyle: { color: '#000', width: X(1.1) } },
    axisLabel: { customValues: yTicks[i], margin: X(7), fontSize: X(13.9), fontFamily: FONT, color: '#000',
      formatter: function (v) { return (v < -1e-9 ? '\u2212' : '') + Math.abs(v).toFixed(1); } },
    name: col === 0 ? 'Elevation (m)' : '',
    nameLocation: 'middle', nameRotate: 90, nameGap: X(48),
    nameTextStyle: { fontSize: X(13.9), fontFamily: FONT, color: '#000' }
  });

  series.push({
    name: 'Obs', type: 'line', xAxisIndex: i, yAxisIndex: i,
    data: obsSets[i].map(function (p) { return [toDay(p[0]), p[1]]; }),
    symbol: 'none', smooth: 0.35, smoothMonotone: 'x', silent: true, z: 2,
    itemStyle: { color: '#ff0000' },
    lineStyle: { color: '#ff0000', width: X(2.1), type: [X(13), X(3.3), X(2.1), X(3.3)] }
  });
  series.push({
    name: 'RUN201h', type: 'line', xAxisIndex: i, yAxisIndex: i,
    data: runSets[i].map(function (p) { return [toDay(p[0]), p[1]]; }),
    symbol: 'none', smooth: 0.35, smoothMonotone: 'x', silent: true, z: 3,
    itemStyle: { color: '#0000ff' },
    lineStyle: { color: '#0000ff', width: X(1.1), opacity: 0.75 }
  });

  graphics.push({
    type: 'text', x: X(left + width / 2), y: Y(top - 5), silent: true,
    style: { text: title, fill: '#000', font: X(16.7) + 'px "' + FONT + '"',
      align: 'center', verticalAlign: 'bottom', textAlign: 'center', textVerticalAlign: 'bottom' }
  });
});

var chart = echarts.init(document.getElementById('chart'), null, { renderer: 'canvas' });
chart.setOption({
  animation: false,
  backgroundColor: '#ffffff',
  grid: grids,
  xAxis: xAxes,
  yAxis: yAxes,
  series: series,
  graphic: graphics,
  legend: {
    data: ['Obs', 'RUN201h'],
    orient: 'vertical',
    left: X(2456), top: Y(44),
    itemWidth: X(28), itemHeight: Y(14), itemGap: Y(7),
    padding: [Y(5), X(7)],
    selectedMode: false,
    itemStyle: { color: 'transparent', borderColor: 'transparent', borderWidth: 0 },
    backgroundColor: 'rgba(255,255,255,0.8)',
    borderColor: '#cccccc', borderWidth: X(1), borderRadius: X(3),
    textStyle: { fontSize: X(13.9), fontFamily: FONT, color: '#000' }
  }
});
</script>
</body>
</html>
